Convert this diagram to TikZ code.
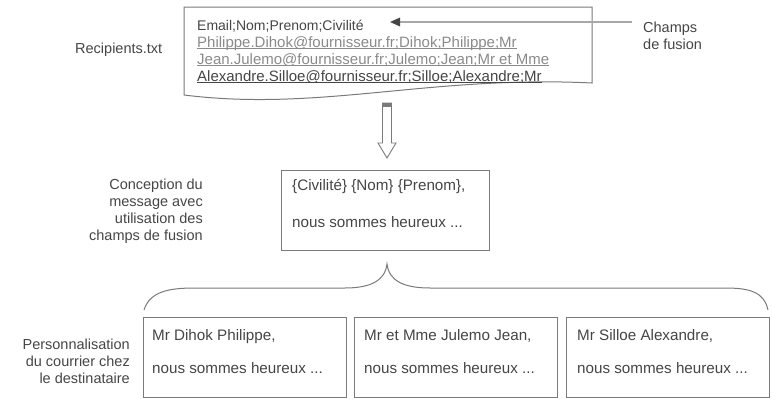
\documentclass[tikz,border=0pt]{standalone}
\usepackage{fontspec}
\setmainfont{Liberation Sans}
\usetikzlibrary{arrows.meta}
\definecolor{linec}{HTML}{7A7A7A}
\definecolor{textc}{HTML}{454545}
\definecolor{linkc}{HTML}{8A8A8A}
\definecolor{arrc}{HTML}{A8A8A8}
\begin{document}
\begin{tikzpicture}[x=1pt,y=-1pt,
  txt/.style={font=\fontsize{14.5}{17}\selectfont, inner sep=0pt, text=textc},
  rowtxt/.style={txt, font=\fontsize{15}{17}\selectfont},
  boxtxt/.style={txt, font=\fontsize{15.2}{17}\selectfont, anchor=base west},
  link/.style={rowtxt, text=linkc},
  frame/.style={draw=linec, line width=1pt},
  uline/.style={draw=#1, line width=0.7pt},
  lbl/.style={txt, align=right, anchor=east},
  boxnode/.style={frame, minimum width=203pt, minimum height=80pt, inner sep=0pt},
]
\useasboundingbox (0,0) rectangle (772,399);

% source document shape
\draw[frame] (184,7) -- (592,7) -- (592,83) .. controls (430,75) and (320,112) .. (184,95) -- cycle;
\node[txt, font=\fontsize{14}{17}\selectfont, anchor=base west] (h)  at (197,30) {Email;Nom;Prenom;Civilité};
\node[link, anchor=base west] (r1) at (197,47) {Philippe.Dihok@fournisseur.fr;Dihok;Philippe;Mr};
\node[link, anchor=base west] (r2) at (197,64) {Jean.Julemo@fournisseur.fr;Julemo;Jean;Mr et Mme};
\node[rowtxt, anchor=base west] (r3) at (197,81) {Alexandre.Silloe@fournisseur.fr;Silloe;Alexandre;Mr};
\draw[uline=linkc] ([yshift=-1.8pt]r1.base west) -- ([yshift=-1.8pt]r1.base east);
\draw[uline=linkc] ([yshift=-1.8pt]r2.base west) -- ([yshift=-1.8pt]r2.base east);
\draw[uline=textc] ([yshift=-1.8pt]r3.base west) -- ([yshift=-1.8pt]r3.base east);
\node[txt, anchor=west] (rec) at (75,50) {Recipients.txt};

% champs de fusion
\node[txt, align=left, anchor=west] (champs) at (643,36) {Champs\\de fusion};
\coordinate (cs) at (632,22);
\coordinate (ct) at (390,22);
\draw[draw=arrc, line width=1.6pt, -{Triangle[length=10pt,width=8.5pt,color=textc]}] (cs) -- (ct);

% hollow arrow down
\draw[frame, line width=0.9pt] (382.5,103) -- (391.5,103) -- (391.5,143) -- (396,143) -- (387,158) -- (378,143) -- (382.5,143) -- cycle;
\fill[linec] (382.5,103) rectangle (391.5,107);

% message box
\node[frame, minimum width=208pt, minimum height=80pt, inner sep=0pt] (msg) at (385,210) {};
\node[boxtxt] (m1) at (292,190) {\{Civilité\} \{Nom\} \{Prenom\},};
\node[boxtxt] (m2) at (292,227) {nous sommes heureux ...};
\node[lbl] (lconc) at (203,211) {Conception du\\message avec\\utilisation des\\champs de fusion};

% brace
\draw[frame] (144,310) .. controls (150,291) and (170,288) .. (195,288) -- (345,288)
  .. controls (370,288) and (385,281) .. (387,264)
  .. controls (389,281) and (404,288) .. (430,288) -- (725,288)
  .. controls (750,288) and (764,292) .. (768,310);

% personalised letters
\node[boxnode] (b1) at (244.5,357) {};
\node[boxnode] (b2) at (455.5,357) {};
\node[boxnode] (b3) at (668,357) {};
\node[boxtxt] (t1a) at (152,340) {Mr Dihok Philippe,};
\node[boxtxt] (t1b) at (152,373) {nous sommes heureux ...};
\node[boxtxt] (t2a) at (364,340) {Mr et Mme Julemo Jean,};
\node[boxtxt] (t2b) at (364,373) {nous sommes heureux ...};
\node[boxtxt] (t3a) at (577,340) {Mr Silloe Alexandre,};
\node[boxtxt] (t3b) at (577,373) {nous sommes heureux ...};
\node[lbl] (lpers) at (130,361) {Personnalisation\\du courrier chez\\le destinataire};
\end{tikzpicture}
\end{document}
